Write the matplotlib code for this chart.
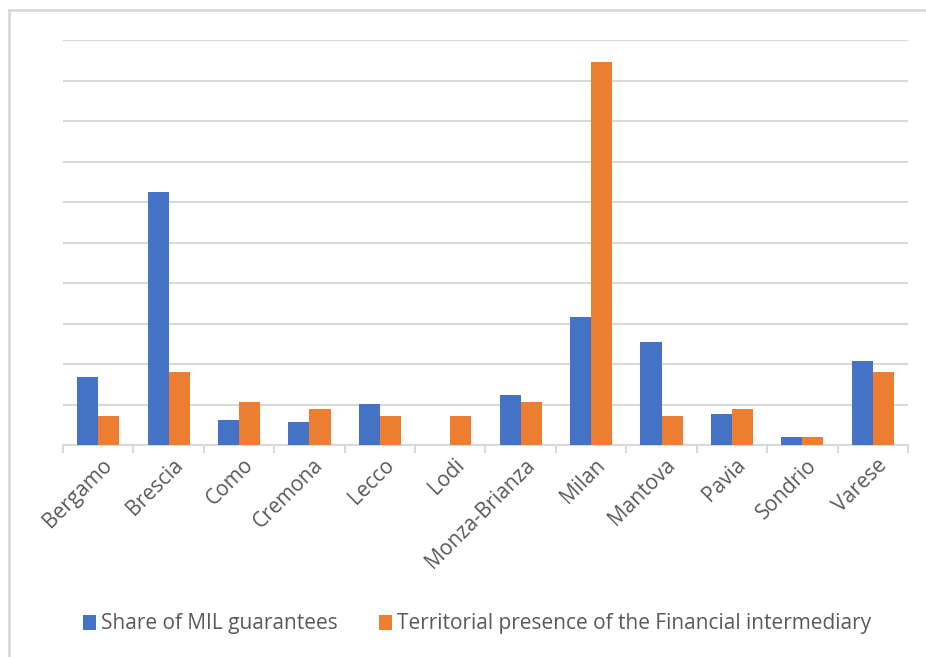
import matplotlib.pyplot as plt
import numpy as np
from matplotlib.lines import Line2D

provinces = ['Bergamo', 'Brescia', 'Como', 'Cremona', 'Lecco', 'Lodi',
             'Monza-Brianza', 'Milan', 'Mantova', 'Pavia', 'Sondrio', 'Varese']
mil_share = [1.68, 6.25, 0.62, 0.57, 1.01, 0.0, 1.23, 3.16, 2.54, 0.77, 0.20, 2.07]
fi_presence = [0.72, 1.80, 1.06, 0.89, 0.72, 0.72, 1.06, 9.46, 0.72, 0.89, 0.20, 1.80]

blue = '#4472C4'
orange = '#ED7D31'
grid = '#D9D9D9'
txt = '#595959'

plt.rcParams['font.family'] = ['Open Sans', 'DejaVu Sans']

fig = plt.figure(figsize=(9.26, 6.57), dpi=100)
ax = fig.add_axes([63/926, 1-445/657, 845/926, 405/657])

x = np.arange(len(provinces))
w = 0.3
ax.bar(x - w/2, mil_share, w, color=blue, label='Share of MIL guarantees', zorder=3)
ax.bar(x + w/2, fi_presence, w, color=orange,
       label='Territorial presence of the Financial intermediary', zorder=3)

ax.set_xlim(-0.5, len(provinces) - 0.5)
ax.set_ylim(0, 10)
ax.set_yticks(np.arange(0, 11, 1))
ax.set_yticklabels([])
ax.tick_params(axis='y', length=0)
ax.grid(axis='y', color=grid, linewidth=1.5, zorder=0)

for s in ['top', 'right', 'left']:
    ax.spines[s].set_visible(False)
ax.spines['bottom'].set_color(grid)
ax.spines['bottom'].set_linewidth(1.5)

# ticks sit between categories, labels in the middle
ax.set_xticks(np.arange(-0.5, len(provinces), 1))
ax.set_xticklabels([])
ax.tick_params(axis='x', which='major', length=6, width=1.5, color=grid)
ax.set_xticks(x + 0.05, minor=True)
ax.set_xticklabels(provinces, minor=True, rotation=45, ha='right',
                   rotation_mode='anchor', fontsize=15, color=txt)
ax.tick_params(axis='x', which='minor', length=0, pad=7)

fig.legend(loc='center', bbox_to_anchor=(477/926, 1-624/657), ncol=2,
           frameon=False, fontsize=15, labelcolor=txt, handlelength=0.6,
           handleheight=0.7, handletextpad=0.25, columnspacing=2.0)

# outer chart frame
fig.add_artist(Line2D([9/926, 9/926], [0, 1-10/657], color=grid, linewidth=2))
fig.add_artist(Line2D([9/926, 1], [1-10/657, 1-10/657], color=grid, linewidth=2))

fig.savefig('out.png', dpi=100)
